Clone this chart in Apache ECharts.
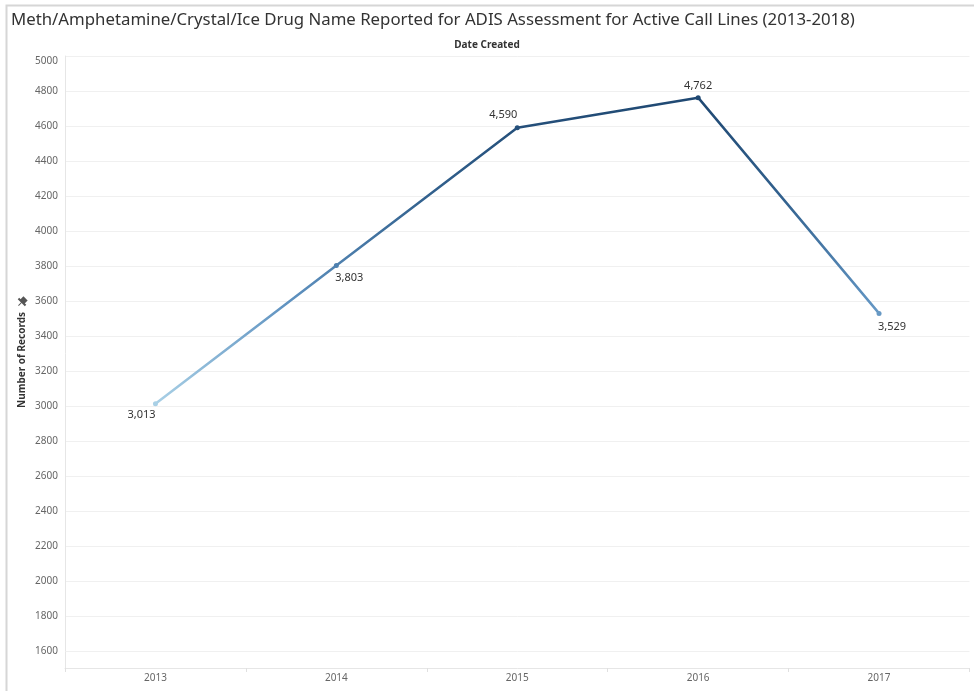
<!DOCTYPE html>
<html>
<head>
<meta charset="utf-8">
<script src="https://cdn.jsdelivr.net/npm/echarts@6/dist/echarts.min.js"></script>
<style>
html,body{margin:0;padding:0;background:#fff;}
#chart{width:974px;height:691px;}
</style>
</head>
<body>
<div id="chart"></div>
<script>
const titleText = 'Meth/Amphetamine/Crystal/Ice Drug Name Reported for ADIS Assessment for Active Call Lines (2013-2018)';
const xHeader = 'Date Created';
const yName = 'Number of Records';
const categories = ['2013', '2014', '2015', '2016', '2017'];
const values = [3013, 3803, 4590, 4762, 3529];
const yMin = 1600, yMax = 5000, yStep = 200;

const labelPlacement = [
  {position: 'bottom', offset: [-14, -2]},
  {position: 'bottom', offset: [13, -1]},
  {position: 'top', offset: [-14, 0]},
  {position: 'top', offset: [0, 1]},
  {position: 'bottom', offset: [13, 0]}
];

const FONT = 'Noto Sans';
const chart = echarts.init(document.getElementById('chart'));
const seriesData = values.map((v, i) => ({value: v, label: labelPlacement[i]}));

chart.setOption({
  backgroundColor: '#fff',
  animation: false,
  textStyle: {fontFamily: FONT},
  title: {
    text: titleText, left: 6, top: 7,
    textStyle: {fontFamily: FONT, fontSize: 16.8, fontWeight: 'normal', color: '#333'}
  },
  grid: {left: 65, right: 4.5, top: 56, bottom: 40},
  xAxis: {
    type: 'category', data: categories, offset: 17,
    axisLine: {lineStyle: {color: '#e6e6e6'}},
    axisTick: {show: true, length: 4, lineStyle: {color: '#e0e0e0'}},
    axisLabel: {color: '#666', fontSize: 10, margin: 5, fontFamily: FONT},
    splitLine: {show: false}
  },
  yAxis: {
    type: 'value', min: yMin, max: yMax, interval: yStep,
    axisLine: {show: true, lineStyle: {color: '#e6e6e6'}},
    axisTick: {show: false},
    axisLabel: {color: '#666', fontSize: 10, margin: 7, fontFamily: FONT,
      formatter: v => v === yMax ? '{top|' + v + '}' : String(v),
      rich: {top: {color: '#666', fontSize: 10, fontFamily: FONT, padding: [10, 0, 0, 0]}}},
    splitLine: {lineStyle: {color: '#f0f0f0'}}
  },
  visualMap: {
    show: false, type: 'continuous', dimension: 1,
    min: 3013, max: 4762,
    inRange: {color: ['#a9d0e6', '#5f92c0', '#33628f', '#1f4872']}
  },
  series: [{
    type: 'line', data: seriesData,
    symbol: 'circle', symbolSize: 5,
    lineStyle: {width: 2.5},
    label: {show: true, color: '#333', fontSize: 11, fontFamily: FONT,
      formatter: p => p.value.toLocaleString('en-US')}
  }],
  graphic: [
    {type: 'rect', left: 4, top: 3, shape: {width: 1000, height: 720},
      style: {fill: 'none', stroke: '#d6d6d6', lineWidth: 2}, silent: true},
    {type: 'line', shape: {x1: 65.5, y1: 651, x2: 65.5, y2: 668},
      style: {stroke: '#e6e6e6', lineWidth: 1}},
    {type: 'text', left: 'center', top: 40,
      style: {text: xHeader, font: 'bold 10px "Noto Sans"', fill: '#333'}},
    {type: 'text', x: 22, y: 360, rotation: Math.PI / 2,
      style: {text: yName, font: 'bold 10px "Noto Sans"', fill: '#333',
        textAlign: 'center', textVerticalAlign: 'middle'}},
    {type: 'group', x: 22, y: 302, rotation: -Math.PI / 4, children: [
      {type: 'rect', shape: {x: -3, y: -5, width: 6, height: 5}, style: {fill: '#555'}},
      {type: 'rect', shape: {x: -5, y: -1, width: 10, height: 2}, style: {fill: '#555'}},
      {type: 'line', shape: {x1: 0, y1: 0, x2: 0, y2: 5}, style: {stroke: '#555', lineWidth: 1}}
    ]}
  ]
});
</script>
</body>
</html>
